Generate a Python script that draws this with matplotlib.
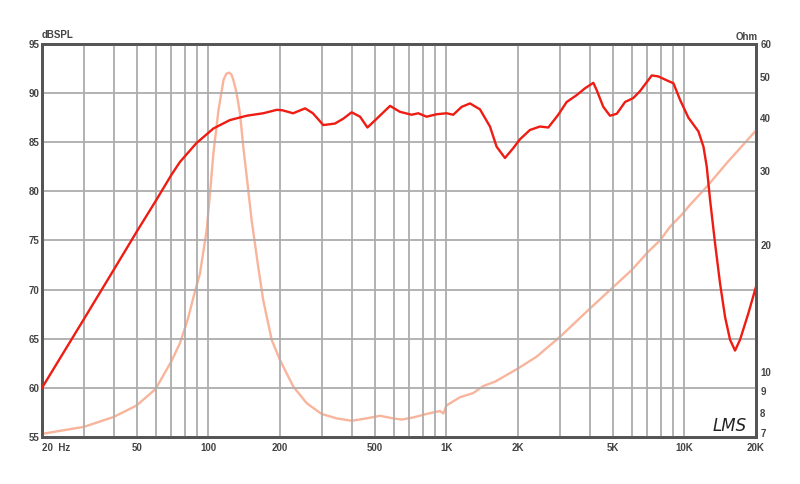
import matplotlib
matplotlib.use("Agg")
import matplotlib.pyplot as plt
from matplotlib.ticker import NullFormatter, NullLocator
from matplotlib.transforms import ScaledTranslation

# --- data -------------------------------------------------------------
spl_freq = [20, 30, 40, 50, 60, 70, 76, 89, 105, 123, 145, 170, 194, 205,
            227, 255, 275, 304, 340, 369, 400, 434, 466, 510, 580, 638,
            714, 762, 826, 910, 1002, 1069, 1159, 1257, 1384, 1525, 1626,
            1763, 1910, 2038, 2245, 2473, 2681, 2953, 3203, 3530, 3828,
            4147, 4283, 4565, 4870, 5200, 5636, 6100, 6510, 7295, 7780,
            8435, 9000, 9600, 10400, 11460, 12030, 12420, 12830, 13460,
            14130, 14830, 15560, 16330, 17140, 18580, 20000]
spl_db = [60.0, 67.0, 72.0, 75.9, 79.0, 81.7, 83.0, 84.9, 86.4, 87.25, 87.7,
          87.95, 88.3, 88.25, 87.95, 88.45, 87.95, 86.75, 86.9, 87.4, 88.05,
          87.6, 86.5, 87.4, 88.7, 88.1, 87.8, 87.95, 87.6, 87.85, 87.95,
          87.8, 88.6, 88.95, 88.35, 86.6, 84.55, 83.4, 84.4, 85.3, 86.25,
          86.6, 86.5, 87.8, 89.1, 89.8, 90.5, 91.05, 90.3, 88.6, 87.7, 87.9,
          89.1, 89.5, 90.2, 91.8, 91.7, 91.3, 91.0, 89.3, 87.5, 86.1, 84.55,
          82.5, 79.1, 74.7, 70.6, 67.2, 64.9, 63.8, 64.9, 67.6, 70.3]

imp_freq = [20, 30, 40, 50, 60, 70, 76, 81.9, 87, 92.2, 98.4, 101.6, 105,
            110.3, 115.8, 119, 122, 125, 127.3, 131.5, 135.8, 140.2, 145,
            152, 162, 170, 184.6, 200, 227.5, 259, 299, 346, 400, 462, 526,
            598, 649, 726, 826, 940, 971, 1002, 1141, 1297, 1429, 1600, 2005,
            2394, 3000, 4017, 4957, 6011, 7064, 7900, 8709, 9750, 10560,
            12420, 15070, 20000]
imp_ohm = [7.12, 7.40, 7.81, 8.32, 9.1, 10.6, 11.7, 13.3, 15.2, 17.1, 21.7,
           26.5, 33.0, 41.8, 49.3, 51.0, 51.3, 50.8, 49.3, 45.8, 41.0, 34.2,
           29.0, 22.9, 17.75, 14.8, 11.9, 10.66, 9.22, 8.42, 7.94, 7.75,
           7.65, 7.75, 7.86, 7.75, 7.70, 7.79, 7.94, 8.07, 7.96, 8.32, 8.70,
           8.90, 9.25, 9.47, 10.19, 10.86, 12.1, 14.14, 15.78, 17.44, 19.3,
           20.5, 22.1, 23.6, 24.9, 27.5, 31.3, 37.4]

x_grid = [20, 30, 40, 50, 60, 70, 80, 90, 100, 200, 300, 400, 500, 600, 700,
          800, 900, 1000, 2000, 3000, 4000, 5000, 6000, 7000, 8000, 9000,
          10000, 20000]
x_label_freq = [20, 50, 100, 200, 500, 1000, 2000, 5000, 10000, 20000]
x_label_text = ["20  Hz", "50", "100", "200", "500", "1K", "2K", "5K", "10K", "20K"]
spl_ticks = [55, 60, 65, 70, 75, 80, 85, 90, 95]
ohm_ticks = [7, 8, 9, 10, 20, 30, 40, 50, 60]

# --- figure -----------------------------------------------------------
plt.rcParams['font.family'] = ['Liberation Sans', 'DejaVu Sans']
fig = plt.figure(figsize=(8, 4.84), dpi=100)
ax = fig.add_axes([42/800, 47/484, 714/800, 393/484])
ax.set_xscale('log')
ax.set_xlim(20, 20000)
ax.set_ylim(55, 95)

grid_c = '#adadad'
for f in x_grid[1:-1]:
    ax.axvline(f, color=grid_c, lw=1.3, zorder=1)
for v in spl_ticks[1:-1]:
    ax.axhline(v, color=grid_c, lw=1.3, zorder=1)

ax.xaxis.set_minor_locator(NullLocator())
ax.xaxis.set_minor_formatter(NullFormatter())
ax.set_xticks(x_label_freq)
ax.set_xticklabels(x_label_text)
ax.get_xticklabels()[0].set_horizontalalignment('left')
ax.set_yticks(spl_ticks)
ax.set_yticklabels([str(v) for v in spl_ticks])
ax.tick_params(axis='both', length=0, labelsize=7, colors='#333333', pad=2)
ax.tick_params(axis='x', pad=4)
for lbl in ax.get_xticklabels() + ax.get_yticklabels():
    lbl.set_fontweight('bold')
    lbl.set_color('#444444')

for s in ax.spines.values():
    s.set_color('#555555')
    s.set_linewidth(2)

ax2 = ax.twinx()
ax2.set_yscale('log')
ax2.set_ylim(7, 60)
ax2.yaxis.set_minor_locator(NullLocator())
ax2.yaxis.set_minor_formatter(NullFormatter())
ax2.set_yticks(ohm_ticks)
ax2.set_yticklabels([str(v) for v in ohm_ticks])
ax2.tick_params(axis='y', length=0, labelsize=7, pad=3)
r_labels = ax2.get_yticklabels()
for lbl in r_labels:
    lbl.set_fontweight('bold')
    lbl.set_color('#444444')
# nudge the bottom "7" up so it clears the "20K" label below it
r_labels[0].set_verticalalignment('bottom')
r_labels[0].set_transform(r_labels[0].get_transform() +
                          ScaledTranslation(0, -2/100, fig.dpi_scale_trans))
for s in ax2.spines.values():
    s.set_color('#555555')
    s.set_linewidth(2)

ax2.plot(imp_freq, imp_ohm, color='#f9b49c', lw=1.7, zorder=3,
         solid_joinstyle='round')
ax.set_zorder(ax2.get_zorder() + 1)
ax.patch.set_visible(False)
ax2.patch.set_visible(True)
ax2.patch.set_facecolor('white')
ax.plot(spl_freq, spl_db, color='#ee1c12', lw=1.7, zorder=4,
        solid_joinstyle='round')

fig.text(42/800, 1 - 38/484, "dBSPL", fontsize=7, fontweight='bold',
         color='#444444', ha='left', va='baseline')
fig.text(758/800, 1 - 40/484, "Ohm", fontsize=7, fontweight='bold',
         color='#444444', ha='right', va='baseline')
fig.text(713/800, 1 - 431/484, "LMS", fontsize=12, style='italic',
         family='DejaVu Sans', color='#222222', ha='left', va='baseline')

fig.savefig("out.png", dpi=100, facecolor='white')
